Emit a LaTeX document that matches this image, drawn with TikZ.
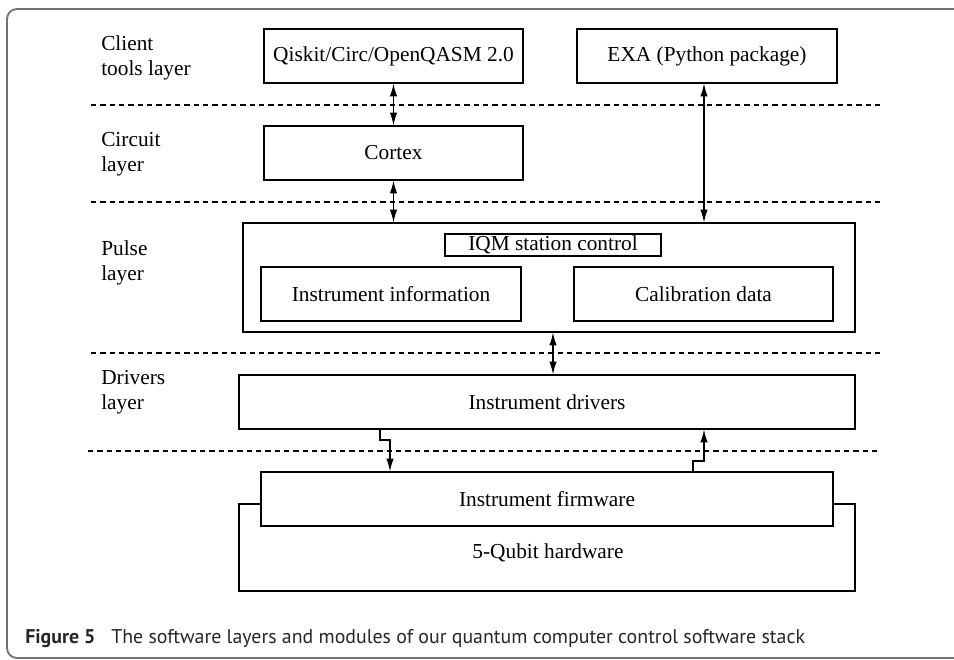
\documentclass[tikz,border=0pt]{standalone}
\usepackage{fontspec}
\setmainfont{Liberation Serif}
\newfontfamily\capfont{PT Sans}
\usetikzlibrary{arrows.meta}
\newcommand\boxnode[6]{\node[boxst, minimum width={(#4-#2)*0.75pt}, minimum height={(#5-#3)*0.75pt}] (#1) at ({(#2+#4)/2},{(#3+#5)/2}) {#6};}
\tikzset{
  boxst/.style={draw, line width=0.9pt, inner sep=0pt, font=\fontsize{16}{18.75}\selectfont},
  lyr/.style={anchor=west, align=left, inner sep=0pt, font=\fontsize{16}{18.75}\selectfont},
  sep/.style={line width=0.8pt, dash pattern=on 4pt off 3pt},
  conn/.style={line width=0.9pt},
  arr/.style={conn, -{Latex[length=9.5pt,width=5.5pt]}},
  darr/.style={conn, {Latex[length=9.5pt,width=5.5pt]}-{Latex[length=9.5pt,width=5.5pt]}},
}
\begin{document}
\begin{tikzpicture}[x=0.75pt,y=-0.75pt]
\useasboundingbox (0,0) rectangle (954,660);
% outer frame
\draw[line width=1.4pt, color=black!55, rounded corners=7.5pt] (960,9) -- (7,9) -- (7,658) -- (960,658);
% separators
\coordinate (s1a) at (91,105); \coordinate (s1b) at (880,105);
\coordinate (s2a) at (91,202); \coordinate (s2b) at (880,202);
\coordinate (s3a) at (91,353); \coordinate (s3b) at (880,353);
\coordinate (s4a) at (88,451); \coordinate (s4b) at (877,451);
\draw[sep] (s1a) -- (s1b);
\draw[sep] (s2a) -- (s2b);
\draw[sep] (s3a) -- (s3b);
\draw[sep] (s4a) -- (s4b);
% layer labels
\node[lyr] (l1) at (101,57.5) {Client\\tools layer};
\node[lyr] (l2) at (101,154.5) {Circuit\\layer};
\node[lyr] (l3) at (101,262.5) {Pulse\\layer};
\node[lyr] (l4) at (101,392.5) {Drivers\\layer};
% boxes
\boxnode{qiskit}{264}{29}{523}{83}{Qiskit/Circ/OpenQASM 2.0}
\boxnode{exa}{577}{29}{837}{83}{EXA (Python package)}
\boxnode{cortex}{264}{126}{523}{180}{Cortex}
\boxnode{pulse}{243}{223}{855}{332}{}
\boxnode{iqm}{445}{234}{661}{256}{IQM station control}
\boxnode{info}{261}{267}{521}{321}{Instrument information}
\boxnode{calib}{574}{267}{833}{321}{Calibration data}
\boxnode{drivers}{239}{375}{855}{429}{Instrument drivers}
\boxnode{firm}{261}{472}{833}{526}{Instrument firmware}
% hardware
\draw[line width=0.9pt] (261,504) -- (239,504) -- (239,591) -- (855,591) -- (855,504) -- (833,504);
\node[inner sep=0pt, font=\fontsize{16}{18.75}\selectfont] (hw) at (548,553) {5-Qubit hardware};
% connectors
\draw[darr] (qiskit.south) -- (cortex.north);
\draw[darr] (cortex.south) -- (cortex.south |- pulse.north);
\draw[darr] (exa.south -| 704,0) -- (pulse.north -| 704,0);
\draw[darr] (pulse.south -| iqm.south) -- (drivers.north -| iqm.south);
\coordinate (e1) at (380,440);
\coordinate (e2) at (390,440);
\draw[arr] (drivers.south -| e1) -- (e1) -- (e2) -- (firm.north -| e2);
\coordinate (e3) at (693,461);
\coordinate (e4) at (704,461);
\draw[arr] (firm.north -| e3) -- (e3) -- (e4) -- (drivers.south -| e4);
% caption
\node[anchor=base west, inner sep=0pt, text=black!85] (cap) at (25,643) {\capfont\fontsize{14.9}{17}\selectfont\textbf{Figure 5}\hspace{0.8em}The software layers and modules of our quantum computer control software stack};
\end{tikzpicture}
\end{document}
